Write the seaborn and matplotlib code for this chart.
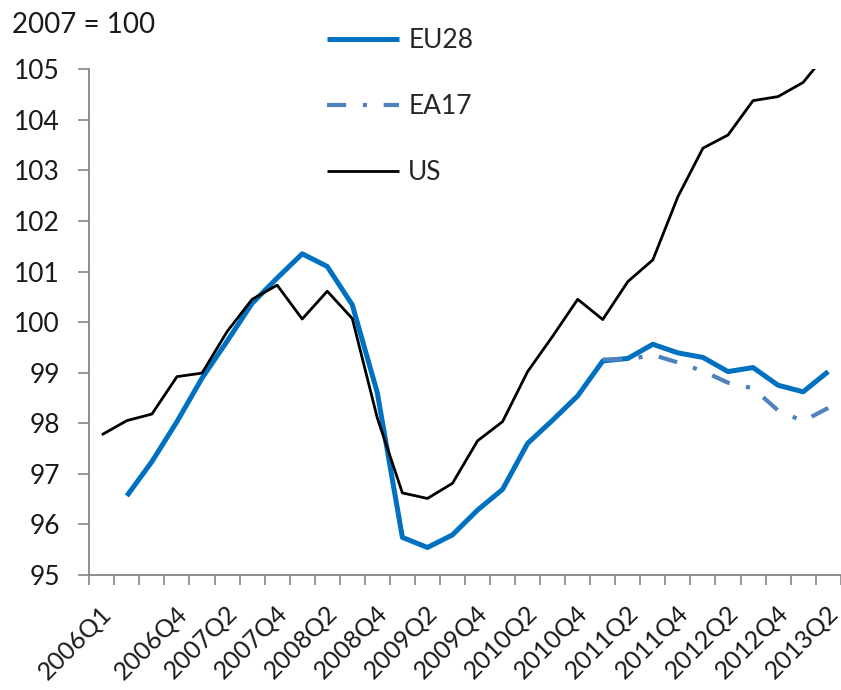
import numpy as np
import pandas as pd
import matplotlib
matplotlib.use("Agg")
import matplotlib.pyplot as plt
import seaborn as sns
from matplotlib.transforms import ScaledTranslation

quarters = [f"{y}Q{q}" for y in range(2006, 2014) for q in range(1, 5)][:30]
label_quarters = ["2006Q1", "2006Q4", "2007Q2", "2007Q4", "2008Q2", "2008Q4",
                  "2009Q2", "2009Q4", "2010Q2", "2010Q4", "2011Q2", "2011Q4",
                  "2012Q2", "2012Q4", "2013Q2"]
nan = np.nan
eu28 = [nan, 96.56, 97.24, 98.03, 98.89, 99.62, 100.37, 100.87, 101.35, 101.10,
        100.34, 98.60, 95.74, 95.54, 95.79, 96.28, 96.69, 97.60, 98.06, 98.54,
        99.23, 99.28, 99.56, 99.39, 99.30, 99.02, 99.10, 98.75, 98.62, 99.02]
ea17 = [nan] * 20 + [99.26, 99.26, 99.35, 99.20, 99.03, 98.80, 98.69, 98.25, 98.04, 98.30]
us = [97.77, 98.05, 98.18, 98.92, 98.99, 99.81, 100.45, 100.73, 100.06, 100.61,
      100.07, 98.10, 96.62, 96.51, 96.81, 97.65, 98.03, 99.02, 99.72, 100.45,
      100.05, 100.80, 101.23, 102.48, 103.44, 103.70, 104.38, 104.46, 104.74, 105.35]
series_names = ["EU28", "EA17", "US"]
y_ticks = list(range(95, 106))
title = "2007 = 100"

sns.set_theme(style="white")
plt.rcParams["font.family"] = ["Lato", "DejaVu Sans"]
FS = 19
GRAY = "#868686"

fig = plt.figure(figsize=(8.41, 6.90), dpi=100)
ax = fig.add_axes([89.3 / 841, 1 - 574.8 / 690, 751.4 / 841, 505.5 / 690])

pos = np.arange(len(quarters))
styles = {
    "EU28": dict(color="#0070C0", linewidth=3.6),
    "EA17": dict(color="#4F81BD", linewidth=3.0, linestyle=(0, (4.6, 4.0, 1.0, 4.0))),
    "US": dict(color="black", linewidth=2.0),
}
for name, vals in zip(series_names, [eu28, ea17, us]):
    d = pd.DataFrame({"pos": pos, "value": vals}).dropna()
    sns.lineplot(data=d, x="pos", y="value", ax=ax, label=name,
                 solid_joinstyle="round", solid_capstyle="butt", **styles[name])

ax.set_xlim(-0.5, len(quarters) - 0.5)
ax.set_ylim(95, 105)
ax.set_xlabel("")
ax.set_ylabel("")
for s in ["top", "right"]:
    ax.spines[s].set_visible(False)
for s in ["left", "bottom"]:
    ax.spines[s].set_color(GRAY)
    ax.spines[s].set_linewidth(1.3)

ax.set_yticks(y_ticks)
ax.set_yticklabels([str(v) for v in y_ticks], fontsize=FS, color="#1a1a1a")
ax.tick_params(axis="y", length=8, width=1.2, color=GRAY, pad=13, left=True, direction="out")

label_pos = [quarters.index(q) for q in label_quarters]
ax.set_xticks(label_pos)
ax.set_xticklabels(label_quarters, fontsize=18, rotation=45, ha="right", va="top",
                   rotation_mode="anchor", color="#1a1a1a")
ax.tick_params(axis="x", which="major", length=0, pad=19)
ax.set_xticks(np.arange(-0.5, len(quarters), 1), minor=True)
ax.tick_params(axis="x", which="minor", length=7, width=1.2, color=GRAY, bottom=True, direction="out")
off = ScaledTranslation(-2 / 100, 0, fig.dpi_scale_trans)
for lab in ax.get_xticklabels():
    lab.set_transform(lab.get_transform() + off)

ax.legend(handles=ax.lines[:3], labels=series_names, loc="upper left",
          bbox_to_anchor=(327 / 841, 1 - 28 / 690), bbox_transform=fig.transFigure,
          frameon=False, fontsize=FS, handlelength=2.73, handletextpad=0.35,
          labelspacing=1.55, borderpad=0, borderaxespad=0)

fig.text(12 / 841, 1 - 25 / 690, title, fontsize=20, va="center", ha="left", color="#1a1a1a")

fig.savefig("out.png", dpi=100)
